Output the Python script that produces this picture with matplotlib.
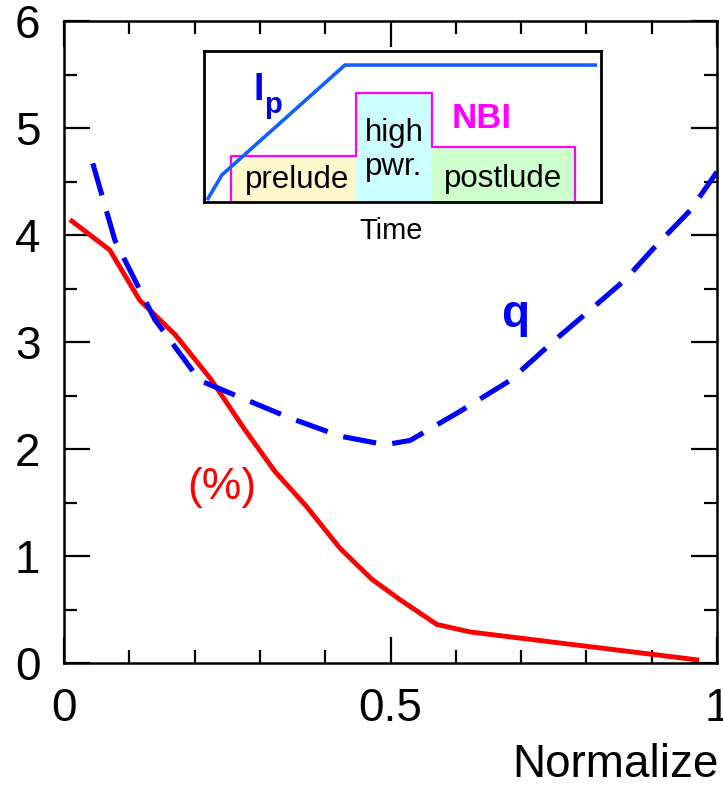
import numpy as np
import matplotlib
matplotlib.use('Agg')
import matplotlib.pyplot as plt
from matplotlib.ticker import MultipleLocator

plt.rcParams['font.family'] = ['Liberation Sans', 'DejaVu Sans']

# main profiles (normalized radius)
rho_bs = [0.012, 0.070, 0.116, 0.170, 0.224, 0.277, 0.323, 0.369, 0.423,
          0.472, 0.515, 0.571, 0.622, 0.969]
f_bs = [4.13, 3.86, 3.39, 3.07, 2.66, 2.18, 1.79, 1.48, 1.07,
        0.78, 0.59, 0.36, 0.29, 0.03]

rho_q = [0.044, 0.078, 0.139, 0.208, 0.346, 0.423, 0.492, 0.530, 0.606,
         0.683, 0.752, 0.806, 0.859, 0.905, 0.959, 1.0]
q_vals = [4.67, 3.95, 3.21, 2.64, 2.29, 2.12, 2.04, 2.08, 2.35,
          2.64, 3.02, 3.30, 3.58, 3.89, 4.23, 4.59]

# inset: scenario in time
t_ip = [0.008, 0.045, 0.355, 0.990]
ip_vals = [0.013, 0.179, 0.907, 0.907]

nbi_edges = [0.068, 0.383, 0.574, 0.935]
nbi_levels = [0.305, 0.722, 0.364]
nbi_names = ['prelude', 'high\npwr.', 'postlude']
nbi_colors = ['#FFF8CC', '#CCFFFF', '#CCFFCC']

W, H = 723, 788
fig = plt.figure(figsize=(W / 100, H / 100), dpi=100)
ax = fig.add_axes([64 / W, 1 - 663 / H, (717 - 64) / W, (663 - 21) / H])

ax.plot(rho_bs, f_bs, color='#FF0000', lw=3.5, solid_joinstyle='miter')
ax.plot(rho_q, q_vals, color='#0000FF', lw=3.7, dashes=(6.5, 3.2),
        dash_capstyle='butt')

ax.set_xlim(0, 1)
ax.set_ylim(0, 6)
ax.xaxis.set_major_locator(MultipleLocator(0.5))
ax.xaxis.set_minor_locator(MultipleLocator(0.1))
ax.yaxis.set_major_locator(MultipleLocator(1))
ax.yaxis.set_minor_locator(MultipleLocator(0.5))
ax.set_xticks([0, 0.5, 1])
ax.set_xticklabels(['0', '0.5', '1'])
ax.tick_params(which='both', direction='in', top=True, right=True,
               width=1.6, labelsize=33, pad=17)
ax.tick_params(which='major', length=19)
ax.tick_params(which='minor', length=9.5)
for s in ax.spines.values():
    s.set_linewidth(1.8)

ax.text(222, H - 487, '(%)', transform=None, color='#FF0000', fontsize=32,
        ha='center', va='center')
ax.text(515, H - 327, 'q', transform=None, color='#0000FF', fontsize=33,
        fontweight='bold', ha='center', va='baseline')

fig.text(512, H - 777, 'Normalize', fontsize=33, ha='left', va='baseline',
         transform=None)

# inset
ins = fig.add_axes([204 / W, 1 - 202 / H, (601 - 204) / W, (202 - 51) / H])
ins.set_xlim(0, 1)
ins.set_ylim(0, 1)
ins.set_xticks([])
ins.set_yticks([])
for s in ins.spines.values():
    s.set_linewidth(2.0)

for i in range(3):
    ins.fill_between([nbi_edges[i], nbi_edges[i + 1]], 0, nbi_levels[i],
                     color=nbi_colors[i], lw=0)
step_x = [nbi_edges[0]]
step_y = [0]
for i in range(3):
    step_x += [nbi_edges[i], nbi_edges[i + 1]]
    step_y += [nbi_levels[i], nbi_levels[i]]
step_x.append(nbi_edges[-1])
step_y.append(0)
ins.plot(step_x, step_y, color='#FF00FF', lw=1.6, clip_on=False)

ins.plot(t_ip, ip_vals, color='#1060FF', lw=2.6, solid_capstyle='butt')

txt_y = [0.145, 0.345, 0.152]
for i in range(3):
    xc = (nbi_edges[i] + nbi_edges[i + 1]) / 2
    ins.text(xc + (0.01 if i == 0 else 0), txt_y[i], nbi_names[i],
             fontsize=22.5, ha='center', va='center', linespacing=1.15)

ins.text(0.70, 0.55, 'NBI', color='#FF00FF', fontsize=25, fontweight='bold',
         ha='center', va='center')
fig.text(254, H - 100, 'I', fontsize=27, fontweight='bold', color='#0000EE',
         ha='left', va='baseline', transform=None)
fig.text(264, H - 113, 'p', fontsize=21, fontweight='bold', color='#0000EE',
         ha='left', va='baseline', transform=None)
fig.text(391, H - 231, 'Time', fontsize=21, ha='center', va='center',
         transform=None)

fig.savefig('out.png', dpi=100)
